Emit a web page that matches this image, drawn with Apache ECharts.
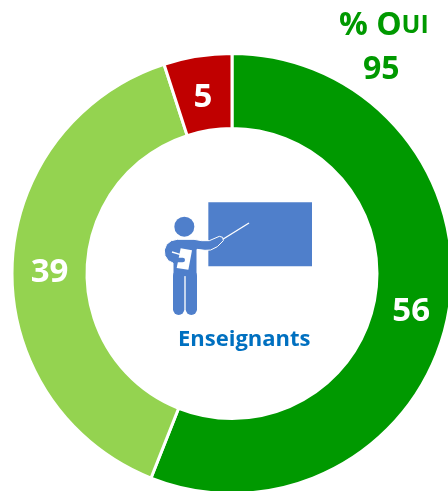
<!DOCTYPE html>
<html>
<head>
<meta charset="utf-8">
<style>
html, body { margin: 0; padding: 0; background: #fff; overflow: hidden; }
#chart { width: 448px; height: 491px; }
</style>
<script src="https://cdn.jsdelivr.net/npm/echarts@6/dist/echarts.min.js"></script>
</head>
<body>
<div id="chart"></div>
<script>
var categories = ['Oui tout à fait', 'Oui plutôt', 'Non'];
var values = [56, 39, 5];
var colors = ['#009900', '#94D350', '#C00000'];
var totalOui = '95';
var groupName = 'Enseignants';

var FONT = '"Open Sans", sans-serif';
var BLUE = '#4F7FCB';
var labelOffsets = [[-3, 3], [3, 5], [0, 7]];

var myChart = echarts.init(document.getElementById('chart'));

var pieData = categories.map(function(name, idx) {
    return {
        name: name,
        value: values[idx],
        itemStyle: { color: colors[idx] },
        label: { offset: labelOffsets[idx] }
    };
});

var option = {
    backgroundColor: '#fff',
    animation: false,
    series: [{
        type: 'pie',
        center: [232, 273.5],
        radius: [145, 220],
        startAngle: 90,
        clockwise: true,
        silent: true,
        itemStyle: { borderColor: '#fff', borderWidth: 3 },
        label: {
            position: 'inside',
            formatter: '{c}',
            color: '#fff',
            fontFamily: FONT,
            fontWeight: 'bold',
            fontSize: 33
        },
        labelLine: { show: false },
        data: pieData
    }],
    graphic: [
        {
            type: 'text',
            left: 339,
            top: 10,
            style: {
                rich: {
                    big: { fontFamily: FONT, fontWeight: 'bold', fontSize: 32, fill: '#009900' },
                    small: { fontFamily: FONT, fontWeight: 'bold', fontSize: 25, fill: '#009900' }
                },
                text: '{big|% O}{small|UI}'
            }
        },
        {
            type: 'text',
            left: 363,
            top: 54,
            style: { text: totalOui, fontFamily: FONT, fontWeight: 'bold', fontSize: 32, fill: '#009900' }
        },
        {
            type: 'text',
            left: 178,
            top: 329,
            style: { text: groupName, fontFamily: FONT, fontWeight: 'bold', fontSize: 22, fill: '#0070C0' }
        },
        // teacher icon, drawn in 3x units
        {
            type: 'group',
            x: 140,
            y: 190,
            scaleX: 1 / 3,
            scaleY: 1 / 3,
            silent: true,
            children: [
                { type: 'rect', shape: { x: 205, y: 37, width: 311, height: 192 }, style: { fill: BLUE } },
                { type: 'line', shape: { x1: 245, y1: 150, x2: 327, y2: 99 }, style: { stroke: '#fff', lineWidth: 4 } },
                { type: 'circle', shape: { cx: 133, cy: 110, r: 30 }, style: { fill: BLUE } },
                {
                    type: 'polygon',
                    shape: {
                        points: [[112, 148], [162, 148], [185, 152], [208, 152], [238, 139], [248, 142], [250, 152], [232, 170],
                            [212, 180], [195, 181], [171, 178], [171, 260], [99, 260], [99, 219], [85, 212], [75, 197],
                            [73, 180], [80, 163], [94, 152]]
                    },
                    style: { fill: BLUE, stroke: '#fff', lineWidth: 3 }
                },
                { type: 'rect', shape: { x: 99, y: 240, width: 34, height: 135, r: 17 }, style: { fill: BLUE } },
                { type: 'rect', shape: { x: 137, y: 240, width: 34, height: 135, r: 17 }, style: { fill: BLUE } },
                { type: 'polygon', shape: { points: [[122, 175], [156, 181], [145, 239], [110, 234]] }, style: { fill: '#fff' } },
                { type: 'line', shape: { x1: 96, y1: 186, x2: 122, y2: 194 }, style: { stroke: '#fff', lineWidth: 4 } },
                { type: 'line', shape: { x1: 108, y1: 210, x2: 128, y2: 210 }, style: { stroke: BLUE, lineWidth: 14, lineCap: 'round' } }
            ]
        }
    ]
};

myChart.setOption(option);
</script>
</body>
</html>
